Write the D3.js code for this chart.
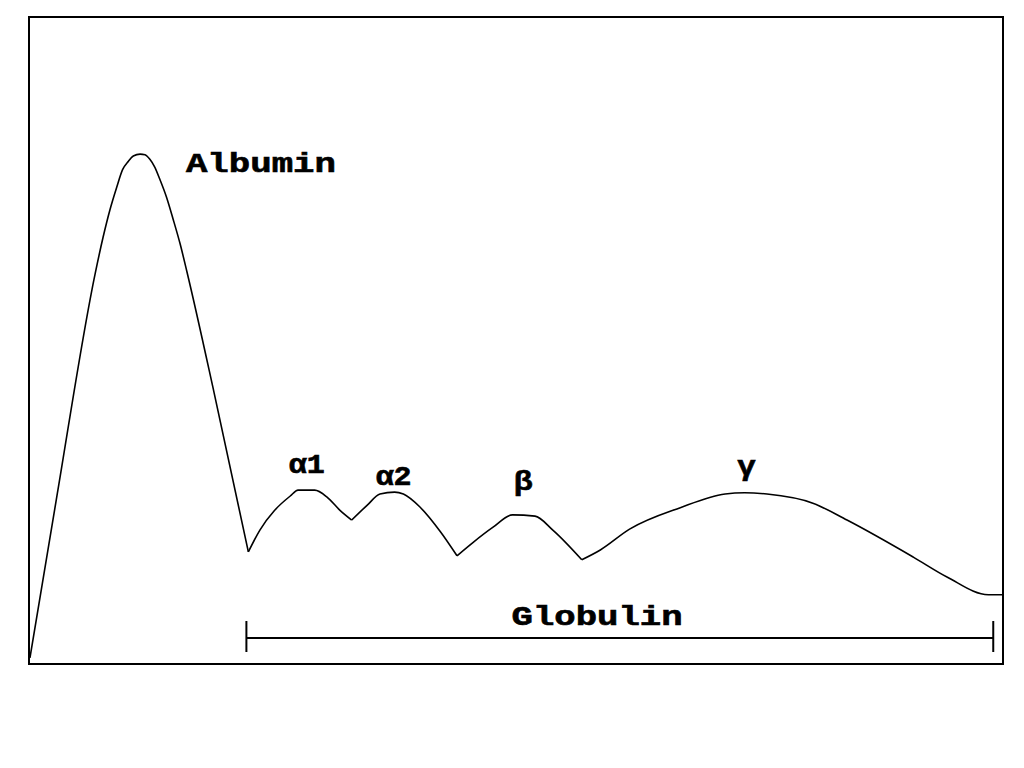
<!DOCTYPE html>
<html>
<head>
<meta charset="utf-8">
<script src="https://cdn.jsdelivr.net/npm/d3@7"></script>
<style>
  html, body { margin: 0; padding: 0; background: #fff; }
  svg { display: block; }
  text { font-family: "Liberation Mono", "Courier New", monospace; font-weight: bold; fill: #000; stroke: #000; stroke-width: 0.6px; }
</style>
</head>
<body>
<svg id="chart" width="1024" height="768"></svg>
<script>
// Electrophoretic mobility (0–100) and relative density (0–100)
const mobility = [0.2, 2.9, 6.9, 7.7, 8.4, 9.1, 9.7, 10.3, 10.8, 11.5, 12.0, 12.5, 13.0, 13.5, 14.2, 14.9, 15.6, 16.3, 19.1, 22.6,
  23.8, 25.3, 26.9, 27.7, 29.4, 30.7, 32.0, 33.2, 34.8, 36.1, 37.6, 38.5, 40.2, 42.3, 44.0,
  45.6, 47.7, 49.7, 52.0, 53.8, 56.8, 58.7, 61.7, 66.9, 71.5, 73.5, 75.8, 80.5, 84.0, 90.8, 94.3, 98.5, 100];
const density = [1.1, 25.4, 60.3, 65.8, 70.0, 73.5, 76.2, 77.5, 78.3, 78.6, 78.5, 77.8, 76.6, 74.8, 72.0, 68.5, 64.8, 60.5, 41.8, 17.4,
  20.8, 23.8, 26.0, 26.9, 26.9, 25.8, 23.8, 22.3, 24.6, 26.3, 26.6, 26.3, 24.3, 20.5, 16.8,
  18.8, 21.2, 23.1, 22.9, 20.8, 16.2, 17.7, 20.9, 24.2, 26.3, 26.5, 26.3, 24.9, 22.3, 16.6, 13.5, 10.8, 10.8];

// Valleys separating fractions (mobility values)
const valleys = [22.6, 33.2, 44.0, 56.8];

// Peak labels
const peakLabels = ["α1", "α2", "β", "γ"];
const peakX = [28.6, 37.5, 50.8, 73.7];
const peakLabelY = [29.5, 27.7, 26.9, 29.2];

const albuminLabel = "Albumin";
const albuminPos = [16.2, 75.8];

const globulinLabel = "Globulin";
const globulinRange = [22.4, 99.0];
const globulinY = 4.15;
const globulinLabelPos = [49.6, 6.2];

const svg = d3.select("#chart");

const x = d3.scaleLinear().domain([0, 100]).range([28, 1003]);
const y = d3.scaleLinear().domain([0, 100]).range([665, 15]);

// frame
svg.append("rect")
  .attr("x", 29).attr("y", 17)
  .attr("width", 974).attr("height", 647)
  .attr("fill", "none").attr("stroke", "#000").attr("stroke-width", 2);

const pts = mobility.map((m, i) => [m, density[i]]);
const line = d3.line().x(d => x(d[0])).y(d => y(d[1])).curve(d3.curveMonotoneX);

// split at valleys so the minima stay sharp
const bounds = [mobility[0], ...valleys, mobility[mobility.length - 1]];
for (let k = 0; k < bounds.length - 1; k++) {
  const seg = pts.filter(p => p[0] >= bounds[k] && p[0] <= bounds[k + 1]);
  svg.append("path")
    .attr("d", line(seg))
    .attr("fill", "none")
    .attr("stroke", "#000")
    .attr("stroke-width", 1.6)
    .attr("stroke-linejoin", "round");
}

// Albumin label
svg.append("text")
  .attr("x", x(albuminPos[0])).attr("y", y(albuminPos[1]))
  .attr("font-size", 27)
  .attr("textLength", 150).attr("lengthAdjust", "spacingAndGlyphs")
  .text(albuminLabel);

// Peak labels
peakLabels.forEach((t, i) => {
  const w = t.length === 2 ? 36 : 19;
  svg.append("text")
    .attr("x", x(peakX[i]) - w / 2).attr("y", y(peakLabelY[i]))
    .attr("font-size", 27)
    .attr("textLength", w).attr("lengthAdjust", "spacingAndGlyphs")
    .text(t);
});

// Globulin bracket
const gy = y(globulinY);
svg.append("line")
  .attr("x1", x(globulinRange[0])).attr("x2", x(globulinRange[1]))
  .attr("y1", gy).attr("y2", gy)
  .attr("stroke", "#000").attr("stroke-width", 2);
globulinRange.forEach(g => {
  svg.append("line")
    .attr("x1", x(g)).attr("x2", x(g))
    .attr("y1", gy - 17).attr("y2", gy + 14)
    .attr("stroke", "#000").attr("stroke-width", 2);
});
svg.append("text")
  .attr("x", x(globulinLabelPos[0])).attr("y", y(globulinLabelPos[1]))
  .attr("font-size", 27)
  .attr("textLength", 171).attr("lengthAdjust", "spacingAndGlyphs")
  .text(globulinLabel);
</script>
</body>
</html>
